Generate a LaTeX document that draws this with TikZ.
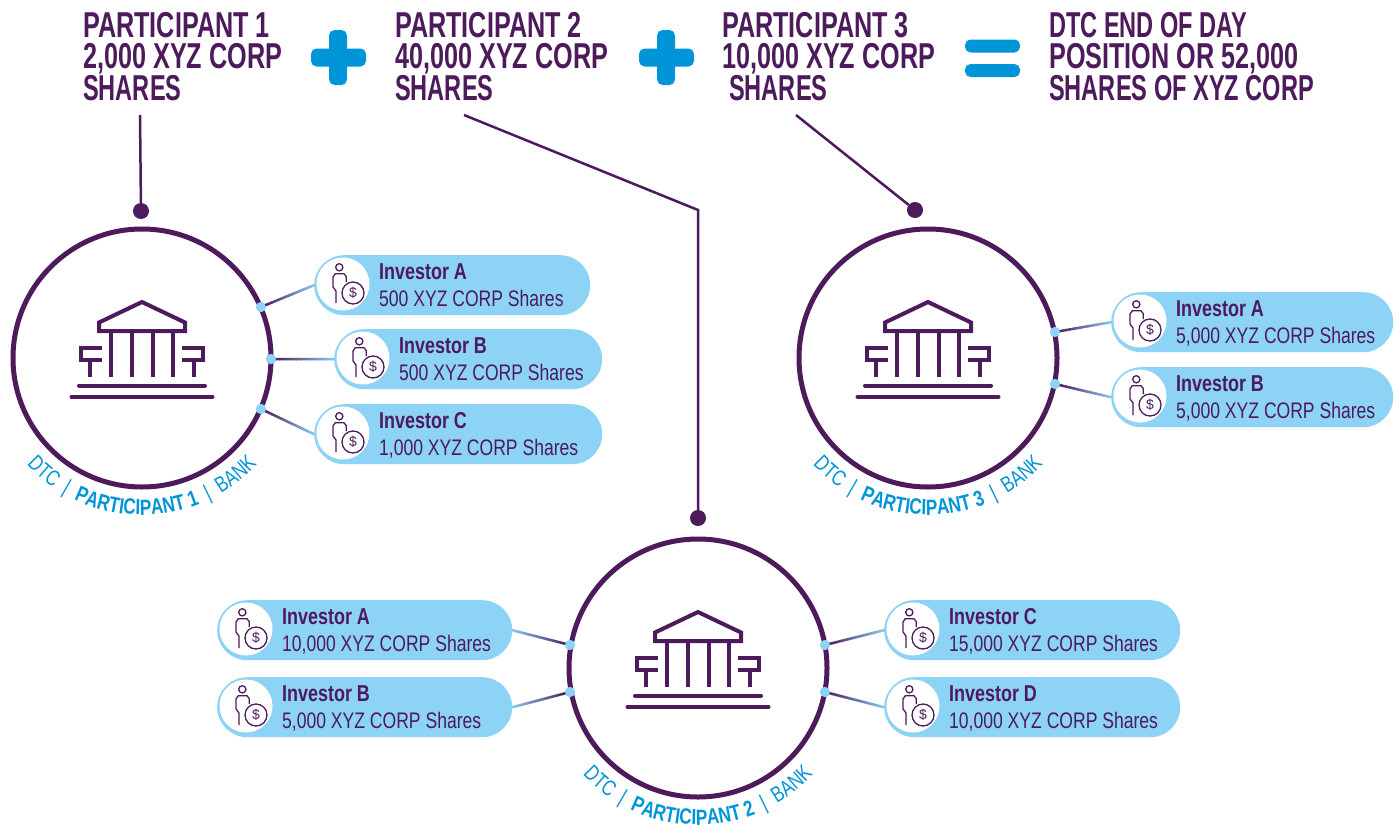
\documentclass[tikz,border=0pt]{standalone}
\usepackage{fontspec}
\setmainfont{Liberation Sans}
\newfontfamily\hdn[FakeStretch=0.70]{Liberation Sans}
\newfontfamily\hdl[FakeStretch=0.655]{Liberation Sans}
\newfontfamily\cnd[FakeStretch=0.78]{Liberation Sans}
\usetikzlibrary{calc,decorations.text}
\definecolor{plum}{HTML}{4D1A5B}
\definecolor{skyb}{HTML}{0095D9}
\definecolor{pale}{HTML}{8DD3F6}
\tikzset{
  hdr/.style={anchor=north west,inner sep=0pt,align=left,text=plum,font=\hdn\bfseries\fontsize{36}{31.5}\selectfont},
  pill/.style={fill=pale,rounded corners=30pt,anchor=north west,inner sep=0pt,minimum height=60pt},
  disc/.style={circle,fill=white,inner sep=0pt,minimum size=53pt},
  dotb/.style={circle,fill=pale,inner sep=0pt,minimum size=10pt},
  dotp/.style={circle,fill=plum,inner sep=0pt,minimum size=16pt},
  bigc/.style={circle,draw=plum,line width=5pt,fill=white,inner sep=0pt,minimum size=258pt},
  lead/.style={draw=plum,line width=2.5pt},
  ico/.style={draw=plum,line width=4pt,line join=miter},
  pico/.style={draw=plum,line width=1.3pt,line join=round},
  nm/.style={anchor=base west,inner sep=0pt,text=plum,font=\cnd\bfseries\fontsize{23}{23}\selectfont},
  sh/.style={anchor=base west,inner sep=0pt,text=plum,font=\cnd\fontsize{22.5}{22}\selectfont},
  op/.style={fill=skyb,rounded corners=5.5pt}
}
% building icon centred on a node
\newcommand{\bank}[1]{%
 \begin{scope}[shift={(#1)}]
  \draw[ico] (-43,-27) -- (-43,-35.5) -- (0,-56) -- (43,-35.5) -- (43,-27) -- cycle;
  \foreach \cx in {-31,-10,10.5,31} \draw[ico] (\cx,-26) -- (\cx,18.7);
  \draw[ico] (-40,-10.5) -- (-61,-10.5) -- (-61,2) -- (-40,2);
  \draw[ico] (40,-10.5) -- (61,-10.5) -- (61,2) -- (40,2);
  \draw[ico] (-52,2) -- (-52,18.7);
  \draw[ico] (52,2) -- (52,18.7);
  \draw[ico,line cap=round] (-63,27.5) -- (63,27.5);
  \draw[ico,line cap=round] (-70.5,38.7) -- (70.5,38.7);
 \end{scope}}
% investor pill: name, x, y, width, title, shares
\newcommand{\investor}[6]{%
 \node[pill,minimum width=#4pt] (#1) at (#2,#3) {};
 \node[disc] (#1d) at (#2+29,#3+29) {};
 \begin{scope}[shift={(#1d.center)}]
  \draw[pico] (-3.7,-16.7) circle[radius=3.6];
  \draw[pico] (-7,19) -- (-7,7) -- (-10,3) -- (-10,-7) -- (-7.7,-10.3) -- (1,-10.3) -- (3.3,-7.3) -- (3.3,-2);
  \node[circle,draw=plum,line width=1.3pt,fill=white,inner sep=0pt,minimum size=22pt,text=plum,font=\fontsize{14}{14}\selectfont] (#1c) at (10,9) {\$};
 \end{scope}
 \node[nm] (#1t) at (#2+65,#3+24.5) {#5};
 \node[sh] (#1s) at (#2+65,#3+51) {#6};
}
% connector shaded from plum to pale blue
\newcommand{\grad}[2]{%
 \foreach \ii [evaluate=\ii as \jj using \ii+1.15, evaluate=\ii as \pc using 100-\ii*6.5] in {0,...,14}
  \draw[line width=2.5pt,color=plum!\pc!pale] ($(#1)!\ii/15!(#2)$) -- ($(#1)!\jj/15!(#2)$);
}
% arc label under a circle
\newcommand{\arclabel}[2]{%
 \begingroup\cnd\fontsize{22}{22}\selectfont
 \path[decorate,decoration={text along path,text format delimiters={[}{]},text color=skyb,text align=center,
   text={DTC \ | \ [\bfseries]PARTICIPANT #2[] \ | \ BANK}}]
   ($(#1)+(222:157pt)$) arc[start angle=222,end angle=318,radius=157pt];
 \endgroup}
\begin{document}
\begin{tikzpicture}[x=1pt,y=-1pt]
\useasboundingbox (0,0) rectangle (1397,827);
\fill[white] (0,0) rectangle (1397,827);
% headers
\node[hdr] (h1) at (83,12) {PARTICIPANT 1\\2,000 XYZ CORP\\\hdl SHARES};
\node[hdr] (h2) at (395,12) {PARTICIPANT 2\\40,000 XYZ CORP\\\hdl SHARES};
\node[hdr] (h3) at (722,12) {PARTICIPANT 3\\10,000 XYZ CORP\\\hspace*{7pt}\hdl SHARES};
\node[hdr] (h4) at (1049,12) {\hdl DTC END OF DAY\\POSITION OR 52,000\\\hdl SHARES OF XYZ CORP};
% operators
\fill[op] (311,48.5) rectangle (366,66.5);
\fill[op] (329,30) rectangle (347,85);
\fill[op] (639,48.5) rectangle (694,66.5);
\fill[op] (657,30) rectangle (675,85);
\fill[op] (965,39.5) rectangle (1020,52.5);
\fill[op] (965,64) rectangle (1020,77);
% big circles
\node[bigc] (c1) at (142,358) {};
\node[bigc] (c2) at (698,668) {};
\node[bigc] (c3) at (928,358) {};
\bank{c1.center}
\bank{c2.center}
\bank{c3.center}
\arclabel{c1.center}{1}
\arclabel{c2.center}{2}
\arclabel{c3.center}{3}
% leaders
\node[dotp] (k1) at (141,211) {};
\node[dotp] (k2) at (698,518) {};
\node[dotp] (k3) at (915,210) {};
\coordinate (s1) at (140,115);
\coordinate (s2) at (464,115);
\coordinate (b2) at (698,210);
\coordinate (s3) at (796,115);
\draw[lead] (s1) -- (k1);
\draw[lead] (s2) -- (b2) -- (k2);
\draw[lead] (s3) -- (k3);
% pills
\investor{pa}{314}{255}{276}{Investor A}{500 XYZ CORP Shares}
\investor{pb}{334}{329}{268}{Investor B}{500 XYZ CORP Shares}
\investor{pc}{314}{404}{288}{Investor C}{1,000 XYZ CORP Shares}
\investor{ra}{1111}{292}{282}{Investor A}{5,000 XYZ CORP Shares}
\investor{rb}{1111}{367}{282}{Investor B}{5,000 XYZ CORP Shares}
\investor{qa}{217}{600}{295}{Investor A}{10,000 XYZ CORP Shares}
\investor{qb}{217}{677}{295}{Investor B}{5,000 XYZ CORP Shares}
\investor{qc}{884}{600}{296}{Investor C}{15,000 XYZ CORP Shares}
\investor{qd}{884}{677}{296}{Investor D}{10,000 XYZ CORP Shares}
% connector dots
\node[dotb] (da) at (261,307) {};
\node[dotb] (db) at (271,359) {};
\node[dotb] (dc) at (261,409) {};
\node[dotb] (ea) at (1055,332) {};
\node[dotb] (eb) at (1055,384) {};
\node[dotb] (fa) at (570,645) {};
\node[dotb] (fb) at (570,692) {};
\node[dotb] (fc) at (825,645) {};
\node[dotb] (fd) at (825,692) {};
\grad{da}{pa.west}
\grad{db}{pb.west}
\grad{dc}{pc.west}
\grad{ea}{ra.west}
\grad{eb}{rb.west}
\grad{fa}{qa.east}
\grad{fb}{qb.east}
\grad{fc}{qc.west}
\grad{fd}{qd.west}
\foreach \dn in {da,db,dc,ea,eb,fa,fb,fc,fd} \node[dotb] at (\dn) {};
\end{tikzpicture}
\end{document}
